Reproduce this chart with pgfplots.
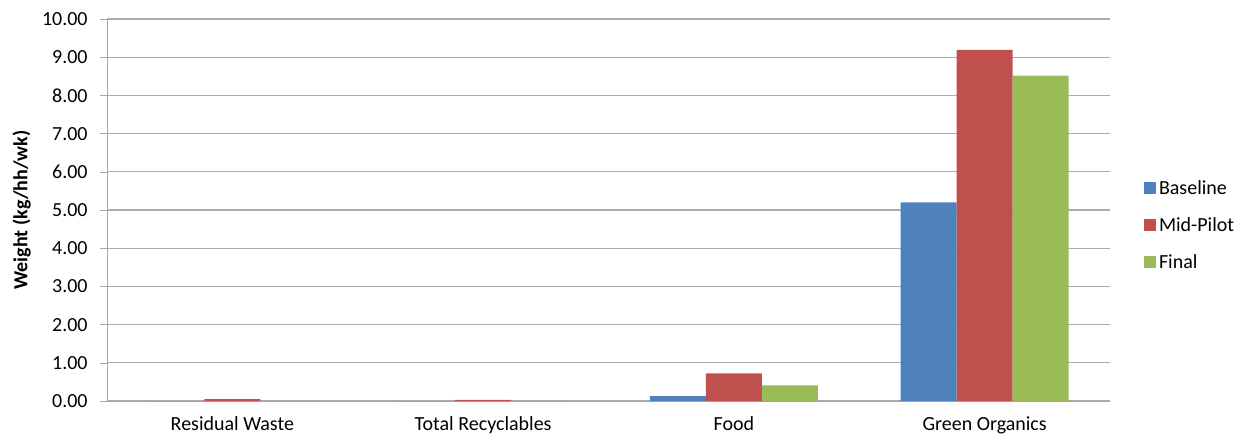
\documentclass[border=0pt]{standalone}
\usepackage{pgfplots}
\pgfplotsset{compat=1.18}
\usepackage{fontspec}
\setmainfont{Carlito}
\definecolor{cb}{HTML}{4F81BD}
\definecolor{cr}{HTML}{C0504D}
\definecolor{cg}{HTML}{9BBB59}
\begin{document}
\begin{tikzpicture}
\path[use as bounding box] (0pt,0pt) rectangle (941.25pt,329.25pt);
\begin{axis}[
  at={(80.25pt,28.5pt)}, anchor=south west,
  scale only axis, width=752.25pt, height=286.5pt,
  ybar=0pt, bar width=42pt,
  xmin=-0.5, xmax=3.5, ymin=0, ymax=10,
  xtick={0,1,2,3},
  xticklabels={Residual Waste,Total Recyclables,Food,Green Organics},
  major x tick style={draw=none},
  extra x ticks={-0.5,0.5,1.5,2.5,3.5},
  extra x tick labels={},
  extra x tick style={major tick length=5pt, tick align=outside, tick style={draw=gray!70}},
  ytick={0,1,...,10},
  yticklabel={\pgfmathprintnumber[fixed,fixed zerofill,precision=2]{\tick}},
  /pgf/number format/assume math mode=true,
  ymajorgrids, grid style={gray!65, line width=0.8pt},
  major y tick style={gray!70},
  tick align=outside, major tick length=5pt,
  axis line style={gray!70},
  axis x line*=bottom, axis y line*=left,
  tick label style={font=\fontsize{15}{18}\selectfont, text=black},
  yticklabel style={xshift=-6pt},
  ylabel={\textbf{Weight (kg/hh/wk)}},
  ylabel style={font=\fontsize{15}{18}\selectfont, at={(axis description cs:-0.085,0.5)}, anchor=center},
  xticklabel style={yshift=-3pt},
  legend style={at={(1.03,0.46)}, anchor=west, draw=none, font=\fontsize{15}{18}\selectfont, row sep=12pt},
  legend image code/.code={\fill[#1] (0pt,-4.5pt) rectangle (9pt,4.5pt);},
  legend cell align=left,
]
\addplot[fill=cb, draw=none] coordinates {(0,0) (1,0) (2,0.13) (3,5.20)};
\addplot[fill=cr, draw=none] coordinates {(0,0.05) (1,0.03) (2,0.72) (3,9.19)};
\addplot[fill=cg, draw=none] coordinates {(0,0) (1,0) (2,0.41) (3,8.52)};
\legend{Baseline,Mid-Pilot,Final}
\end{axis}
\end{tikzpicture}
\end{document}
